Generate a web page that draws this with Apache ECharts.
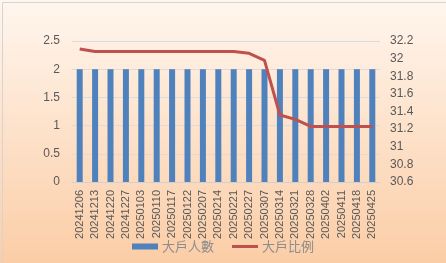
<!DOCTYPE html>
<html><head><meta charset="utf-8">
<script src="https://cdn.jsdelivr.net/npm/echarts@6/dist/echarts.min.js"></script>
<style>html,body{margin:0;padding:0;}#c{width:446px;height:263px;}</style>
</head><body><div id="c"></div>
<script>
const categories = ['20241206','20241213','20241220','20241227','20250103','20250110','20250117','20250122','20250207','20250214','20250221','20250227','20250307','20250314','20250321','20250328','20250402','20250411','20250418','20250425'];
const holders = [2,2,2,2,2,2,2,2,2,2,2,2,2,2,2,2,2,2,2,2];
const ratio = [32.11,32.08,32.08,32.08,32.08,32.08,32.08,32.08,32.08,32.08,32.08,32.06,31.98,31.36,31.31,31.23,31.23,31.23,31.23,31.23];
const chart = echarts.init(document.getElementById('c'), null, {renderer:'canvas'});
const font = '"Liberation Sans", Arial, sans-serif';
chart.setOption({
  backgroundColor: {type:'linear', x:0, y:0, x2:0, y2:1, colorStops:[{offset:0,color:'#FFF6EE'},{offset:1,color:'#FBCDA6'}]},
  animation:false,
  graphic:[{type:'rect', left:0, top:0, shape:{x:0.5,y:0.5,width:445,height:262}, style:{fill:'none', stroke:'#D4D4D4', lineWidth:1}, silent:true}],
  grid:{left:72, right:66, top:41, bottom:81},
  legend:{
    bottom:5, left:'center', itemGap:18, itemWidth:26, itemHeight:6,
    textStyle:{color:'#8C8C8C', fontSize:13, padding:[0,0,0,-1], fontFamily:'"Noto Sans CJK TC", sans-serif'},
    data:[{name:'大戶人數', icon:'rect'},{name:'大戶比例', icon:'path://M0,0 L26,0 L26,3 L0,3 Z'}]
  },
  xAxis:{type:'category', data:categories,
    axisLine:{lineStyle:{color:'#D0D0D0'}}, axisTick:{show:false},
    axisLabel:{rotate:90, interval:0, color:'#595959', fontSize:11, fontFamily:font, margin:8}},
  yAxis:[
    {type:'value', min:0, max:2.5, interval:0.5,
     axisLine:{show:false}, axisTick:{show:false},
     splitLine:{lineStyle:{color:'#DCDCDC'}},
     axisLabel:{color:'#595959', fontSize:12, fontFamily:font, margin:12}},
    {type:'value', min:30.6, max:32.2, interval:0.2,
     axisLine:{show:false}, axisTick:{show:false}, splitLine:{show:false},
     axisLabel:{color:'#595959', fontSize:12, fontFamily:font, margin:10, formatter:v=>String(+v.toFixed(1))}}
  ],
  series:[
    {name:'大戶人數', type:'bar', data:holders, barWidth:6, itemStyle:{color:'#4F81BD'}},
    {name:'大戶比例', type:'line', yAxisIndex:1, data:ratio, symbol:'none', lineStyle:{color:'#C0504D', width:3}, itemStyle:{color:'#C0504D'}}
  ]
});
</script></body></html>
